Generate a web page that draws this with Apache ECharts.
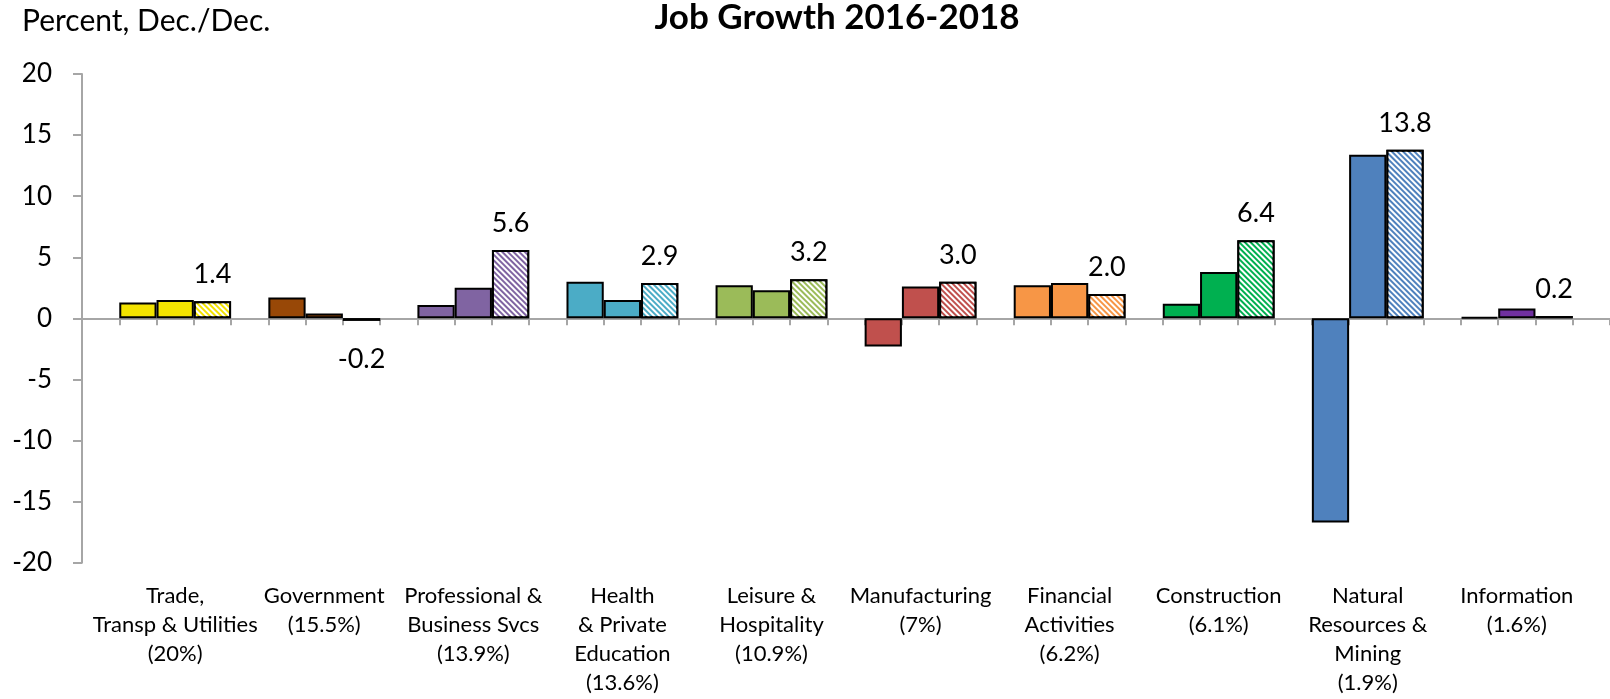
<!DOCTYPE html>
<html>
<head>
<meta charset="utf-8">
<script src="https://cdn.jsdelivr.net/npm/echarts@6/dist/echarts.min.js"></script>
<style>
  html, body { margin: 0; padding: 0; background: #ffffff; }
  #chart { width: 1610px; height: 699px; }
</style>
</head>
<body>
<div id="chart"></div>
<script>
// Sector names with their share of employment
const sectors = [
  'Trade,\nTransp & Utilities\n(20%)',
  'Government\n(15.5%)',
  'Professional &\nBusiness Svcs\n(13.9%)',
  'Health\n& Private\nEducation\n(13.6%)',
  'Leisure &\nHospitality\n(10.9%)',
  'Manufacturing\n(7%)',
  'Financial\nActivities\n(6.2%)',
  'Construction\n(6.1%)',
  'Natural\nResources &\nMining\n(1.9%)',
  'Information\n(1.6%)'
];

// Dec./Dec. job growth, percent
const growth2016 = [1.3, 1.7, 1.1, 3.0, 2.7, -2.3, 2.7, 1.2, -16.7, 0.1];
const growth2017 = [1.5, 0.4, 2.5, 1.5, 2.3, 2.6, 2.9, 3.8, 13.4, 0.8];
const growth2018 = [1.4, -0.2, 5.6, 2.9, 3.2, 3.0, 2.0, 6.4, 13.8, 0.2];

// Value axis range
const axisMin = -20;
const axisMax = 20;
const axisStep = 5;

// One colour per sector
const sectorColors = ['#F3E300', '#984807', '#8064A2', '#4BACC6', '#9BBB59',
                      '#C0504D', '#F79646', '#00B050', '#4F81BD', '#7030A0'];

const FONT = 'Lato';

// Each sector takes four slots on the category axis: a spacer, then 2016, 2017, 2018.
// A trailing spacer closes the axis.
const slotNames = [];
const slotData = [];
const hatch = {
  symbol: 'rect',
  symbolSize: 1,
  dashArrayX: [1, 0],
  dashArrayY: [2, 2],
  rotation: Math.PI / 4,
  color: '#ffffff'
};
sectors.forEach((name, k) => {
  slotNames.push('gap' + k);
  slotData.push('-');
  const years = [growth2016[k], growth2017[k], growth2018[k]];
  years.forEach((v, j) => {
    slotNames.push('s' + k + '_' + j);
    const item = {
      value: v,
      itemStyle: { color: sectorColors[k] }
    };
    if (j === 2) {
      item.itemStyle.decal = hatch;
      item.label = {
        show: true,
        position: v < 0 ? 'bottom' : 'top',
        distance: v < 0 ? 25 : 13,
        formatter: (p) => p.value.toFixed(1),
        fontFamily: FONT,
        fontSize: 27,
        color: '#000000'
      };
    }
    slotData.push(item);
  });
});
slotNames.push('gapEnd');
slotData.push('-');

const chart = echarts.init(document.getElementById('chart'), null, { renderer: 'canvas' });

chart.setOption({
  backgroundColor: '#ffffff',
  animation: false,
  graphic: [
    {
      type: 'text',
      x: 837,
      y: 17.5,
      style: {
        text: 'Job Growth 2016-2018',
        fontFamily: FONT,
        fontSize: 35,
        fontWeight: 'bold',
        fill: '#000000',
        align: 'center',
        verticalAlign: 'middle'
      }
    },
    {
      type: 'text',
      x: 22,
      y: 21.5,
      style: {
        text: 'Percent, Dec./Dec.',
        fontFamily: FONT,
        fontSize: 30,
        fill: '#000000',
        align: 'left',
        verticalAlign: 'middle'
      }
    }
  ],
  grid: { left: 82, right: -9.5, top: 74, bottom: 136.3, containLabel: false },
  xAxis: [
    {
      type: 'category',
      data: slotNames,
      position: 'bottom',
      axisLine: { onZero: true, lineStyle: { color: '#A6A6A6', width: 2 } },
      axisTick: { show: true, interval: 0, length: 7, lineStyle: { color: '#A6A6A6', width: 2 } },
      axisLabel: { show: false },
      splitLine: { show: false }
    },
    {
      type: 'category',
      data: slotNames,
      position: 'bottom',
      axisLine: { show: false, onZero: false },
      axisTick: { show: false },
      axisLabel: {
        show: true,
        interval: 0,
        margin: 19,
        fontFamily: FONT,
        fontSize: 22,
        lineHeight: 28.8,
        color: '#000000',
        align: 'center',
        formatter: (v, i) => (i % 4 === 2 ? sectors[(i - 2) / 4] : '')
      },
      splitLine: { show: false }
    }
  ],
  yAxis: {
    type: 'value',
    min: axisMin,
    max: axisMax,
    interval: axisStep,
    axisLine: { show: true, lineStyle: { color: '#A6A6A6', width: 2 } },
    axisTick: { show: true, length: 9, lineStyle: { color: '#A6A6A6', width: 2 } },
    axisLabel: { margin: 30, fontFamily: FONT, fontSize: 26, color: '#000000' },
    splitLine: { show: false }
  },
  series: [
    {
      type: 'bar',
      xAxisIndex: 0,
      data: slotData,
      barWidth: '100%',
      itemStyle: { borderColor: '#000000', borderWidth: 2 }
    }
  ]
});
</script>
</body>
</html>
